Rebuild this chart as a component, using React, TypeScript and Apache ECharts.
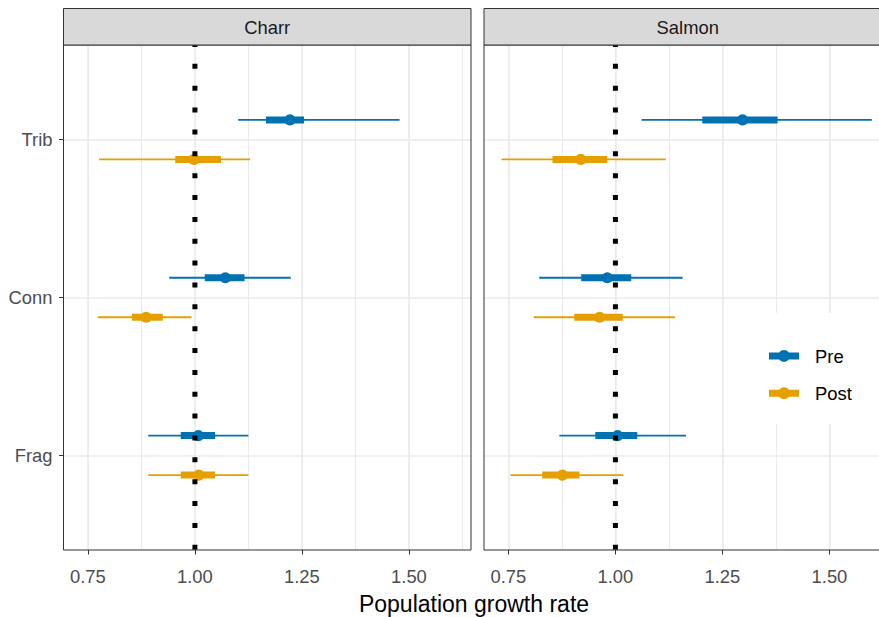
import React, { useEffect, useRef } from "react";
import * as echarts from "echarts";

// Sites from bottom (position 1) to top (position 3)
const sites = ["Frag", "Conn", "Trib"];
const panels = ["Charr", "Salmon"];
const periods = ["Pre", "Post"];
const periodColors = ["#0072B2", "#E69F00"];
const periodOffsets = [0.125, -0.125];

const xTicks = [0.75, 1.0, 1.25, 1.5];
const xMinorGrid = [0.75, 0.875, 1.0, 1.125, 1.25, 1.375, 1.5, 1.625];
const xMin = 0.693;
const xMax = 1.645;
const yMin = 0.4;
const yMax = 3.6;
const refLine = 1.0;

// Charr (Frag, Conn, Trib)
const charrPreEst = [1.008, 1.071, 1.222];
const charrPreLo95 = [0.891, 0.94, 1.101];
const charrPreHi95 = [1.125, 1.224, 1.478];
const charrPreLo50 = [0.967, 1.023, 1.166];
const charrPreHi50 = [1.047, 1.116, 1.255];

const charrPostEst = [1.009, 0.886, 0.998];
const charrPostLo95 = [0.891, 0.773, 0.776];
const charrPostHi95 = [1.125, 0.992, 1.129];
const charrPostLo50 = [0.967, 0.853, 0.954];
const charrPostHi50 = [1.047, 0.925, 1.061];

// Salmon (Frag, Conn, Trib)
const salmonPreEst = [1.005, 0.981, 1.297];
const salmonPreLo95 = [0.869, 0.822, 1.061];
const salmonPreHi95 = [1.165, 1.157, 1.599];
const salmonPreLo50 = [0.953, 0.92, 1.203];
const salmonPreHi50 = [1.051, 1.037, 1.379];

const salmonPostEst = [0.876, 0.963, 0.919];
const salmonPostLo95 = [0.755, 0.809, 0.734];
const salmonPostHi95 = [1.019, 1.139, 1.118];
const salmonPostLo50 = [0.829, 0.904, 0.853];
const salmonPostHi50 = [0.916, 1.017, 0.981];

const panelData = [
  [
    [charrPreEst, charrPreLo95, charrPreHi95, charrPreLo50, charrPreHi50],
    [charrPostEst, charrPostLo95, charrPostHi95, charrPostLo50, charrPostHi50],
  ],
  [
    [salmonPreEst, salmonPreLo95, salmonPreHi95, salmonPreLo50, salmonPreHi50],
    [salmonPostEst, salmonPostLo95, salmonPostHi95, salmonPostLo50, salmonPostHi50],
  ],
];

const FONT = "'Liberation Sans', Arial, Helvetica, sans-serif";
const SMALL = 18.4;
const CHART_W = 879;
const GRID_LEFTS = [63.5, 484];
const GRID_TOP = 45;
const GRID_W = 407.5;
const GRID_H = 505;
const PX_PER_UNIT = GRID_W / (xMax - xMin);

export default function App() {
  const ref = useRef<HTMLDivElement>(null);
  useEffect(() => {
    if (!ref.current) return;
    const chart = echarts.init(ref.current, null, { renderer: "svg" });

    const legendIcon =
      "path://M0,2.5H10.13A6,6 0 0 1 19.87,2.5H30V9.5H19.87A6,6 0 0 1 10.13,9.5H0Z";

    const grids: any[] = [];
    const xAxes: any[] = [];
    const yAxes: any[] = [];
    const series: any[] = [];
    const graphics: any[] = [];

    panels.forEach((panel, pi) => {
      // the right panel runs past the page edge; show only its visible part
      const visW = Math.min(GRID_W, CHART_W - GRID_LEFTS[pi]);
      const visMax = xMin + visW / PX_PER_UNIT;
      grids.push({
        left: GRID_LEFTS[pi],
        top: GRID_TOP,
        width: visW,
        height: GRID_H,
        show: false,
      });
      // minor grid axis
      xAxes.push({
        type: "value",
        gridIndex: pi,
        position: "bottom",
        min: xMin,
        max: visMax,
        axisLine: { show: false },
        axisTick: { show: false, customValues: xMinorGrid.filter((v) => v <= visMax) },
        axisLabel: { show: false },
        splitLine: { show: true, lineStyle: { color: "#ebebeb", width: 1.1 } },
      });
      // major axis
      xAxes.push({
        type: "value",
        gridIndex: pi,
        position: "bottom",
        offset: 0,
        min: xMin,
        max: visMax,
        axisLine: { show: false },
        axisTick: {
          show: true,
          customValues: xTicks,
          length: 4.5,
          lineStyle: { color: "#333333", width: 1 },
        },
        axisLabel: {
          show: true,
          customValues: xTicks,
          formatter: (v: number) => v.toFixed(2),
          color: "#4d4d4d",
          fontSize: SMALL,
          fontFamily: FONT,
          margin: 17,
        },
        splitLine: { show: true, lineStyle: { color: "#ebebeb", width: 1.6 } },
      });
      yAxes.push({
        type: "value",
        gridIndex: pi,
        min: yMin,
        max: yMax,
        axisLine: { show: false },
        axisTick: {
          show: pi === 0,
          customValues: [1, 2, 3],
          length: 4.5,
          lineStyle: { color: "#333333", width: 1 },
        },
        axisLabel: {
          show: pi === 0,
          customValues: [1, 2, 3],
          formatter: (v: number) => sites[Math.round(v) - 1] ?? "",
          color: "#4d4d4d",
          fontSize: SMALL,
          fontFamily: FONT,
          margin: 11,
        },
        splitLine: { show: true, lineStyle: { color: "#ebebeb", width: 1.6 } },
      });

      periods.forEach((period, ki) => {
        const [est, lo95, hi95, lo50, hi50] = panelData[pi][ki];
        const color = periodColors[ki];
        const data = sites.map((_, i) => [
          i + 1 + periodOffsets[ki],
          lo95[i],
          hi95[i],
          lo50[i],
          hi50[i],
          est[i],
        ]);
        series.push({
          type: "custom",
          name: period,
          xAxisIndex: pi * 2 + 1,
          yAxisIndex: pi,
          itemStyle: { color },
          encode: { x: [1, 2, 3, 4, 5], y: 0 },
          z: 3,
          renderItem: (params: any, api: any) => {
            const y = api.value(0);
            const a95 = api.coord([api.value(1), y]);
            const b95 = api.coord([api.value(2), y]);
            const a50 = api.coord([api.value(3), y]);
            const b50 = api.coord([api.value(4), y]);
            const c = api.coord([api.value(5), y]);
            return {
              type: "group",
              children: [
                {
                  type: "line",
                  shape: { x1: a95[0], y1: a95[1], x2: b95[0], y2: b95[1] },
                  style: { stroke: color, lineWidth: 1.8 },
                },
                {
                  type: "line",
                  shape: { x1: a50[0], y1: a50[1], x2: b50[0], y2: b50[1] },
                  style: { stroke: color, lineWidth: 7 },
                },
                {
                  type: "circle",
                  shape: { cx: c[0], cy: c[1], r: 5.6 },
                  style: { fill: color },
                },
              ],
            };
          },
          data,
        });
      });

      series.push({
        type: "line",
        name: "ref" + pi,
        xAxisIndex: pi * 2 + 1,
        yAxisIndex: pi,
        data: [
          [refLine, yMax],
          [refLine, yMin],
        ],
        symbol: "none",
        silent: true,
        z: 5,
        lineStyle: {
          color: "#000000",
          width: 5,
          type: [5, 16.86],
          dashOffset: 2.5,
          cap: "butt",
        },
      });

      // panel border
      graphics.push({
        type: "rect",
        shape: { x: GRID_LEFTS[pi], y: GRID_TOP, width: GRID_W, height: GRID_H },
        style: { fill: "none", stroke: "#333333", lineWidth: 1 },
        silent: true,
        z: 10,
      });
      // strip
      graphics.push({
        type: "rect",
        shape: { x: GRID_LEFTS[pi], y: 8.5, width: GRID_W, height: 36.5 },
        style: { fill: "#d9d9d9", stroke: "#333333", lineWidth: 1 },
        z: 10,
      });
      graphics.push({
        type: "text",
        x: GRID_LEFTS[pi] + GRID_W / 2,
        y: 27,
        style: {
          text: panel,
          fill: "#1a1a1a",
          fontSize: SMALL,
          fontFamily: FONT,
          align: "center",
          verticalAlign: "middle",
        },
        z: 11,
      });
    });

    graphics.push({
      type: "text",
      x: 474,
      y: 604,
      style: {
        text: "Population growth rate",
        fill: "#000000",
        fontSize: 23,
        fontFamily: FONT,
        align: "center",
        verticalAlign: "middle",
      },
    });

    chart.setOption({
      animation: false,
      backgroundColor: "#ffffff",
      grid: grids,
      xAxis: xAxes,
      yAxis: yAxes,
      series,
      graphic: graphics,
      legend: {
        orient: "vertical",
        left: 758,
        top: 313,
        padding: [33, 30, 21, 11],
        backgroundColor: "#ffffff",
        data: periods.map((p) => ({ name: p, icon: legendIcon })),
        itemWidth: 30,
        itemHeight: 12,
        itemGap: 17.3,
        selectedMode: false,
        textStyle: {
          fontSize: SMALL,
          fontFamily: FONT,
          color: "#000000",
          lineHeight: 20,
          padding: [0, 0, 0, 11],
        },
      },
    });
    return () => chart.dispose();
  }, []);
  return (
    <div
      ref={ref}
      style={{ position: "fixed", left: 0, top: 0, width: CHART_W, height: 617 }}
    />
  );
}
